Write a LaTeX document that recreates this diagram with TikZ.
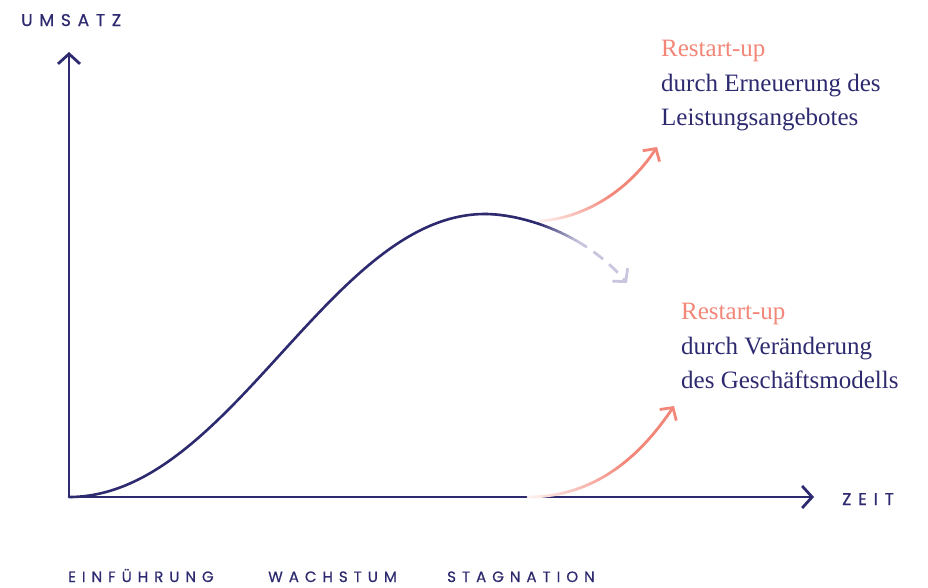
\documentclass[tikz,border=0pt]{standalone}
\usepackage{fontspec}
\usetikzlibrary{arrows.meta,calc}
\newfontfamily\labfont[LetterSpace=40,FakeBold=0.6]{Poppins}
\newfontfamily\serfont{Liberation Serif}
\definecolor{navy}{HTML}{2E2A6F}
\definecolor{salmon}{HTML}{F28678}
\definecolor{salpale}{HTML}{FDF0EE}
\definecolor{lav}{HTML}{C8C6DE}
\newcommand\mkbez[5]{%
  \foreach \i in {0,...,40}{%
    \pgfmathsetmacro\tt{\i/40}%
    \coordinate (q1) at ($(#1)!\tt!(#2)$);
    \coordinate (q2) at ($(#2)!\tt!(#3)$);
    \coordinate (q3) at ($(#3)!\tt!(#4)$);
    \coordinate (r1) at ($(q1)!\tt!(q2)$);
    \coordinate (r2) at ($(q2)!\tt!(q3)$);
    \coordinate (#5\i) at ($(r1)!\tt!(r2)$);
  }%
}
\tikzset{
  axisline/.style={draw=navy, line width=2.8pt, -{Straight Barb[length=10pt,width=22pt]}},
  mainline/.style={draw=navy, line width=2.6pt, line cap=round},
  seg/.style={line width=2.8pt, line cap=round},
  barb/.style={-{Straight Barb[length=9pt,width=20pt]}},
  lab/.style={anchor=base west, inner sep=0pt, text=navy, font=\labfont\fontsize{15}{17}\selectfont},
  biglab/.style={lab, font=\labfont\fontsize{17}{19}\selectfont},
  sertxt/.style={anchor=base west, inner sep=0pt, font=\serfont\fontsize{25}{34}\selectfont},
}
\begin{document}
\begin{tikzpicture}[x=1pt,y=-1pt]
\useasboundingbox (0,0) rectangle (928,587);
% axes
\coordinate (O) at (69,497);
\coordinate (ytip) at (69,52);
\coordinate (xtip) at (814,497);
\draw[axisline] (O) -- (ytip);
\draw[axisline] (O) -- (xtip);
% main curve, rising part
\coordinate (P) at (485,214);
\draw[mainline] (O) .. controls (230,497) and (330,214) .. (P);
% main curve, falling part
\coordinate (m1c) at (520,214);
\coordinate (m2c) at (585,232);
\coordinate (E) at (627,283);
\mkbez{P}{m1c}{m2c}{E}{m}
\foreach \i in {0,...,25}{
  \pgfmathtruncatemacro\j{\i+1}
  \pgfmathtruncatemacro\c{\i<16 ? 100 : 100*(26-\i)/10}
  \draw[seg, line width=2.6pt, navy!\c!lav] (m\i) -- (m\j);
}
\draw[seg, lav, line cap=butt, dash pattern=on 12pt off 8pt, -{Straight Barb[length=9pt,width=20pt]}]
  (m26) foreach \k in {27,...,40}{ -- (m\k) };
% upper salmon arrow
\coordinate (S1) at (540,221);
\coordinate (u1c) at (585,218);
\coordinate (u2c) at (630,190);
\coordinate (T1) at (657,147);
\mkbez{S1}{u1c}{u2c}{T1}{u}
\foreach \i in {0,...,38}{
  \pgfmathtruncatemacro\j{\i+1}
  \pgfmathtruncatemacro\c{min(100,\i*100/22)}
  \draw[seg, salmon!\c!salpale] (u\i) -- (u\j);
}
\draw[seg, salmon, barb] (u39) -- (u40);
% lower salmon arrow
\coordinate (S2) at (528,497);
\coordinate (v1c) at (600,497);
\coordinate (v2c) at (645,450);
\coordinate (T2) at (674,406);
\mkbez{S2}{v1c}{v2c}{T2}{v}
\foreach \i in {0,...,38}{
  \pgfmathtruncatemacro\j{\i+1}
  \pgfmathtruncatemacro\c{min(100,\i*100/22)}
  \draw[seg, salmon!\c!salpale] (v\i) -- (v\j);
}
\draw[seg, salmon, barb] (v39) -- (v40);
% labels
\node[biglab] (umsatz) at (21,26) {UMSATZ};
\node[biglab] (zeit) at (842,505) {ZEIT};
\node[lab] (einf) at (68,582) {EINFÜHRUNG};
\node[lab] (wach) at (268,582) {WACHSTUM};
\node[lab] (stag) at (447,582) {STAGNATION};
% texts
\node[sertxt, text=salmon] (ra) at (661,56) {Restart-up};
\node[sertxt, text=navy] (rb) at (661,91) {durch Erneuerung des};
\node[sertxt, text=navy] (rc) at (661,125) {Leistungsangebotes};
\node[sertxt, text=salmon] (sa) at (681,319) {Restart-up};
\node[sertxt, text=navy] (sb) at (681,354) {durch Veränderung};
\node[sertxt, text=navy] (sc) at (681,388) {des Geschäftsmodells};
\end{tikzpicture}
\end{document}
